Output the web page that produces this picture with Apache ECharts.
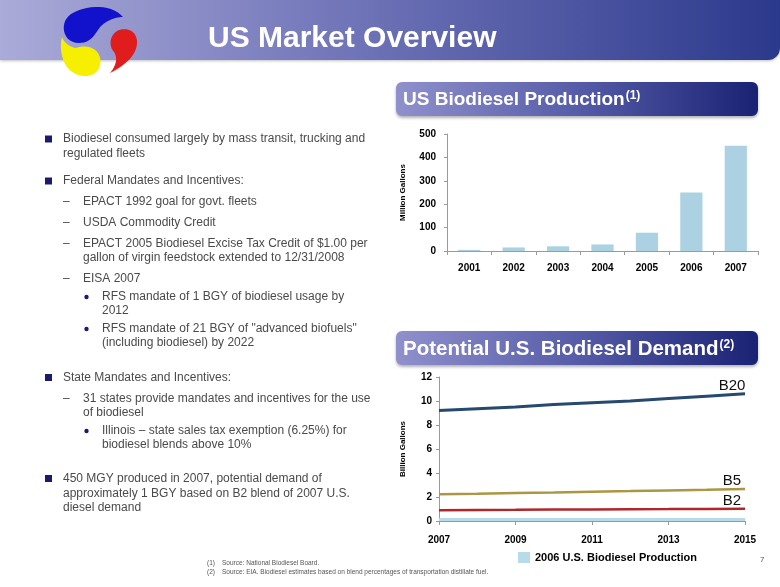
<!DOCTYPE html>
<html><head><meta charset="utf-8">
<script src="https://cdn.jsdelivr.net/npm/echarts@6/dist/echarts.min.js"></script>
<style>html,body{margin:0;padding:0;background:#fff}#c{width:780px;height:587px}</style>
</head><body><div id="c"></div>
<script>
// ---- data ----
const prodYears = ['2001', '2002', '2003', '2004', '2005', '2006', '2007'];
const prodValues = [5, 15, 20, 28, 78, 250, 450];
const prodTickMin = 0, prodTickMax = 500, prodTickStep = 100;

const demandYears = ['2007', '2008', '2009', '2010', '2011', '2012', '2013', '2014', '2015'];
const b20 = [9.2, 9.35, 9.5, 9.7, 9.85, 10.0, 10.2, 10.4, 10.6];
const b5 = [2.22, 2.27, 2.33, 2.38, 2.44, 2.49, 2.55, 2.6, 2.66];
const b2 = [0.9, 0.92, 0.93, 0.95, 0.96, 0.98, 0.99, 1.01, 1.02];
const prod2006 = [0.25, 0.25, 0.25, 0.25, 0.25, 0.25, 0.25, 0.25, 0.25];
const demandTickMin = 0, demandTickMax = 12, demandTickStep = 2;
const blendNames = ['B20', 'B5', 'B2'];
const prodLegendName = '2006 U.S. Biodiesel Production';

const bodyLines = [
  [0, 'Biodiesel consumed largely by mass transit, trucking and', 139, true],
  [0, 'regulated fleets', 154, false],
  [0, 'Federal Mandates and Incentives:', 181, true],
  [1, 'EPACT 1992 goal for govt. fleets', 202, true],
  [1, 'USDA Commodity Credit', 223, true],
  [1, 'EPACT 2005 Biodiesel Excise Tax Credit of $1.00 per', 244, true],
  [1, 'gallon of virgin feedstock extended to 12/31/2008', 258, false],
  [1, 'EISA 2007', 279, true],
  [2, 'RFS mandate of 1 BGY of biodiesel usage by', 297, true],
  [2, '2012', 311, false],
  [2, 'RFS mandate of 21 BGY of "advanced biofuels"', 329, true],
  [2, '(including biodiesel) by 2022', 343, false],
  [0, 'State Mandates and Incentives:', 377.5, true],
  [1, '31 states provide mandates and incentives for the use', 399, true],
  [1, 'of biodiesel', 413, false],
  [2, 'Illinois \u2013 state sales tax exemption (6.25%) for', 431, true],
  [2, 'biodiesel blends above 10%', 445, false],
  [0, '450 MGY produced in 2007, potential demand of', 478.5, true],
  [0, 'approximately 1 BGY based on B2 blend of 2007 U.S.', 493.5, false],
  [0, 'diesel demand', 507.5, false]
];

// ---- styles ----
const SANS = "'Liberation Sans',Arial,sans-serif";
const AXIS_GRAY = '#9a9a9a';
const TEXT_GRAY = '#4a4a4a';
const NAVY = '#1b1b6e';

// sample a closed path of cubic beziers into polygon points (logo drawing)
function bezierPoly(start, curves) {
  const pts = [start.slice()];
  let p0 = start;
  curves.forEach(function (c) {
    for (let k = 1; k <= 14; k++) {
      const t = k / 14, u = 1 - t;
      pts.push([
        u*u*u*p0[0] + 3*u*u*t*c[0] + 3*u*t*t*c[2] + t*t*t*c[4],
        u*u*u*p0[1] + 3*u*u*t*c[1] + 3*u*t*t*c[3] + t*t*t*c[5]
      ]);
    }
    p0 = [c[4], c[5]];
  });
  return pts;
}

const measureCtx = document.createElement('canvas').getContext('2d');
function textWidth(txt, font) { measureCtx.font = font; return measureCtx.measureText(txt).width; }

const graphics = [];
// header band
graphics.push({
  type: 'rect', shape: { x: 0, y: -20, width: 780, height: 80, r: [0, 0, 12, 0] },
  style: { fill: new echarts.graphic.LinearGradient(0, 0, 1, 0, [
    { offset: 0, color: '#aaabd8' }, { offset: 0.45, color: '#7074b8' }, { offset: 1, color: '#2b398c' }]),
    shadowBlur: 3, shadowOffsetY: 1, shadowColor: 'rgba(0,0,0,0.25)' }, z: 1
});
// logo
graphics.push({ type: 'polygon', shape: { points: bezierPoly([123, 17], [[112, 4, 88, 4, 71, 14], [59, 22, 62, 43, 79, 43], [92, 43, 95, 33, 101, 26], [108, 20, 115, 17, 123, 17]]) }, style: { fill: '#1212cc' }, z: 3 });
graphics.push({ type: 'polygon', shape: { points: bezierPoly([110, 73], [[124, 66, 138, 55, 137, 41], [136, 29, 124, 27, 117, 31], [109, 36, 109, 47, 114, 52], [118, 58, 116, 66, 110, 73]]) }, style: { fill: '#e11c1c' }, z: 3 });
graphics.push({ type: 'polygon', shape: { points: bezierPoly([62, 37], [[58, 52, 64, 75, 84, 76], [99, 77, 103, 63, 99, 55], [95, 46, 83, 45, 76, 48], [70, 47, 64, 43, 62, 37]]) }, style: { fill: '#f6f000' }, z: 3 });
graphics.push({ type: 'text', x: 208, y: 39, style: { text: 'US Market Overview', fill: '#fff', font: 'bold 30px ' + SANS, textVerticalAlign: 'middle' }, z: 4 });

// section bands
function band(y, title, sup, size) {
  const font = 'bold ' + size + 'px ' + SANS;
  graphics.push({
    type: 'rect', shape: { x: 396, y: y, width: 362, height: 34, r: 6 },
    style: { fill: new echarts.graphic.LinearGradient(0, 0, 1, 0, [
      { offset: 0, color: '#9090cc' }, { offset: 0.5, color: '#565ca8' }, { offset: 1, color: '#1a2274' }]),
      shadowBlur: 3, shadowOffsetY: 2, shadowColor: 'rgba(0,0,0,0.3)' }, z: 1
  });
  graphics.push({ type: 'text', x: 403, y: y + 18, style: { text: title, fill: '#fff', font: font, textVerticalAlign: 'middle' }, z: 2 });
  graphics.push({ type: 'text', x: 404 + textWidth(title, font), y: y + 14, style: { text: sup, fill: '#fff', font: 'bold 12px ' + SANS, textVerticalAlign: 'middle' }, z: 2 });
}
band(82, 'US Biodiesel Production', '(1)', 19);
band(331, 'Potential U.S. Biodiesel Demand', '(2)', 20.5);

// body text
const levelX = [63, 83, 102];
bodyLines.forEach(function (l) {
  const lvl = l[0], y = l[2];
  graphics.push({ type: 'text', x: levelX[lvl], y: y, style: { text: l[1], fill: TEXT_GRAY, font: '12px ' + SANS, textVerticalAlign: 'middle' }, z: 2 });
  if (l[3]) {
    if (lvl === 0) graphics.push({ type: 'rect', shape: { x: 45, y: y - 3.5, width: 7, height: 7 }, style: { fill: NAVY }, z: 2 });
    else if (lvl === 1) graphics.push({ type: 'text', x: 63, y: y, style: { text: '\u2013', fill: TEXT_GRAY, font: '12px ' + SANS, textVerticalAlign: 'middle' }, z: 2 });
    else graphics.push({ type: 'circle', shape: { cx: 86.5, cy: y, r: 2.2 }, style: { fill: NAVY }, z: 2 });
  }
});

// footnotes
const FOOT = '6.5px ' + SANS;
graphics.push({ type: 'text', x: 207, y: 563, style: { text: '(1)', fill: '#555', font: FOOT, textVerticalAlign: 'middle' } });
graphics.push({ type: 'text', x: 222, y: 563, style: { text: 'Source: National Biodiesel Board.', fill: '#555', font: FOOT, textVerticalAlign: 'middle' } });
graphics.push({ type: 'text', x: 207, y: 572, style: { text: '(2)', fill: '#555', font: FOOT, textVerticalAlign: 'middle' } });
graphics.push({ type: 'text', x: 222, y: 572, style: { text: 'Source: EIA. Biodiesel estimates based on blend percentages of transportation distillate fuel.', fill: '#555', font: FOOT, textVerticalAlign: 'middle' } });
graphics.push({ type: 'text', x: 760, y: 560, style: { text: '7', fill: '#555', font: '8px ' + SANS, textVerticalAlign: 'middle' } });

const axisLabelStyle = { fontFamily: SANS, fontWeight: 'bold', fontSize: 10, color: '#000' };
const axisNameStyle = { fontFamily: SANS, fontWeight: 'bold', fontSize: 8, color: '#000' };

const chart = echarts.init(document.getElementById('c'));
const option = {
  animation: false,
  backgroundColor: '#fff',
  grid: [
    { left: 447, top: 134, width: 311, height: 117 },
    { left: 439, top: 377, width: 306, height: 144 }
  ],
  xAxis: [
    { type: 'category', gridIndex: 0, data: prodYears,
      axisLine: { lineStyle: { color: AXIS_GRAY } },
      axisTick: { show: true, length: 4, lineStyle: { color: AXIS_GRAY } },
      axisLabel: Object.assign({ margin: 12 }, axisLabelStyle) },
    { type: 'category', gridIndex: 1, data: demandYears, boundaryGap: false,
      axisLine: { lineStyle: { color: AXIS_GRAY } },
      axisTick: { show: true, interval: 1, length: 4, lineStyle: { color: AXIS_GRAY } },
      axisLabel: Object.assign({ margin: 14, interval: 1 }, axisLabelStyle) }
  ],
  yAxis: [
    { type: 'value', gridIndex: 0, min: prodTickMin, max: prodTickMax, interval: prodTickStep,
      axisLine: { show: true, lineStyle: { color: AXIS_GRAY } },
      axisTick: { show: true, length: 3, lineStyle: { color: AXIS_GRAY } },
      splitLine: { show: false },
      axisLabel: Object.assign({ margin: 11 }, axisLabelStyle),
      name: 'Million Gallons', nameLocation: 'middle', nameRotate: 90, nameGap: 40,
      nameTextStyle: axisNameStyle },
    { type: 'value', gridIndex: 1, min: demandTickMin, max: demandTickMax, interval: demandTickStep,
      axisLine: { show: true, lineStyle: { color: AXIS_GRAY } },
      axisTick: { show: true, length: 3, lineStyle: { color: AXIS_GRAY } },
      splitLine: { show: false },
      axisLabel: Object.assign({ margin: 7 }, axisLabelStyle),
      name: 'Billion Gallons', nameLocation: 'middle', nameRotate: 90, nameGap: 32,
      nameTextStyle: axisNameStyle }
  ],
  legend: {
    data: [prodLegendName], left: 518, top: 552, padding: 0, icon: 'rect', itemWidth: 12, itemHeight: 11, itemGap: 6,
    textStyle: { fontFamily: SANS, fontWeight: 'bold', fontSize: 11, color: '#000' }
  },
  series: [
    { type: 'bar', xAxisIndex: 0, yAxisIndex: 0, data: prodValues, barWidth: '50%',
      itemStyle: { color: '#abd1e2' } },
    { type: 'line', name: prodLegendName, xAxisIndex: 1, yAxisIndex: 1, data: prod2006, symbol: 'none',
      lineStyle: { width: 0, color: '#b7dbe8' }, itemStyle: { color: '#b7dbe8' },
      areaStyle: { color: '#b7dbe8', opacity: 1 }, z: 1 },
    { type: 'line', name: blendNames[0], xAxisIndex: 1, yAxisIndex: 1, data: b20, symbol: 'none',
      lineStyle: { width: 3, color: '#25496f' }, itemStyle: { color: '#25496f' }, z: 3 },
    { type: 'line', name: blendNames[1], xAxisIndex: 1, yAxisIndex: 1, data: b5, symbol: 'none',
      lineStyle: { width: 2.5, color: '#ad9643' }, itemStyle: { color: '#ad9643' }, z: 3 },
    { type: 'line', name: blendNames[2], xAxisIndex: 1, yAxisIndex: 1, data: b2, symbol: 'none',
      lineStyle: { width: 2.5, color: '#b2262a' }, itemStyle: { color: '#b2262a' }, z: 3 }
  ],
  graphic: { elements: graphics }
};
chart.setOption(option);

// end labels placed from the data through the axes
const last = demandYears.length - 1;
const blendData = [b20, b5, b2];
const labelEls = blendNames.map(function (n, i) {
  const pt = chart.convertToPixel({ xAxisIndex: 1, yAxisIndex: 1 }, [last, blendData[i][last]]);
  return { type: 'text', x: pt[0] - 13, y: pt[1] - 8,
    style: { text: n, fill: '#111', font: '15px ' + SANS, textAlign: 'center', textVerticalAlign: 'middle' }, z: 5 };
});
chart.setOption({ graphic: { elements: graphics.concat(labelEls) } });
</script>
</body></html>
